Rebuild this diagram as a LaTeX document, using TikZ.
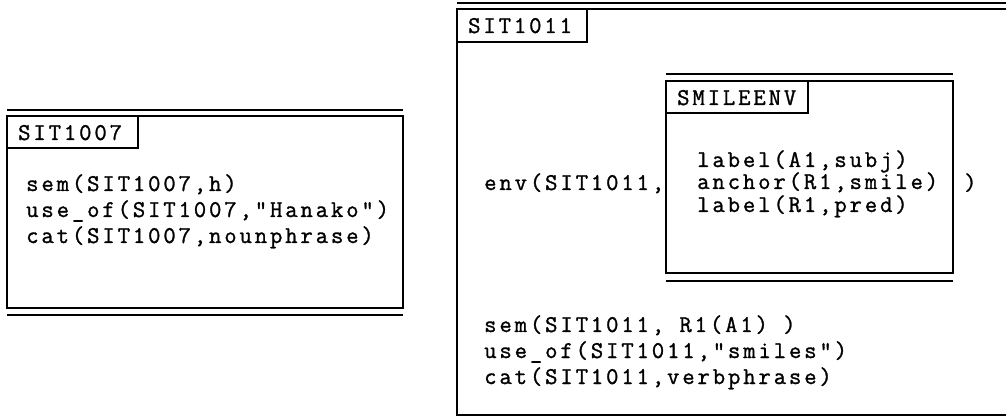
\documentclass[tikz,border=0pt]{standalone}
\usepackage{fontspec}
\newfontfamily\ttf{Latin Modern Mono}[LetterSpace=12,FakeBold=1.2]
\tikzset{
  frame/.style={line width=2.6pt},
  lab/.style={line width=2pt},
  rule/.style={line width=2.2pt},
  rulethick/.style={line width=2.8pt},
  txt/.style={anchor=base west, inner sep=0pt, font=\ttf\fontsize{24}{26}\selectfont},
}
\begin{document}
\begin{tikzpicture}[x=1pt,y=-1pt]
\useasboundingbox (0,0) rectangle (1006,419);
% left box
\draw[rule] (7,110) -- (403,110);
\draw[frame] (7,116) rectangle (403,308);
\draw[lab] (7,116) rectangle (138,148);
\draw[rulethick] (7,315) -- (403,315);
\node[txt] (lt) at (18,140) {SIT1007};
\node[txt] (l1) at (26,191) {sem(SIT1007,h)};
\node[txt] (l2) at (26,217) {use\_of(SIT1007,"Hanako")};
\node[txt] (l3) at (26,243) {cat(SIT1007,nounphrase)};
% right box
\draw[rule] (457,3) -- (1006,3);
\draw[frame] (1008,9) -- (457,9) -- (457,415) -- (1008,415);
\draw[lab] (457,9) rectangle (587,42);
\node[txt] (rt) at (468,33) {SIT1011};
% inner box
\draw[rule] (666,74) -- (953,74);
\draw[frame] (666,81) rectangle (953,273);
\draw[lab] (666,81) rectangle (808,113);
\draw[rulethick] (666,281) -- (953,281);
\node[txt] (it) at (677,105) {SMILEENV};
\node[txt] (i1) at (697,167) {label(A1,subj)};
\node[txt] (i2) at (697,189) {anchor(R1,smile)};
\node[txt] (i3) at (697,212) {label(R1,pred)};
\node[txt] (env) at (484,190) {env(SIT1011,};
\node[txt] (cl) at (964,190) {)};
\node[txt] (r1) at (484,332) {sem(SIT1011, R1(A1) )};
\node[txt] (r2) at (484,358) {use\_of(SIT1011,"smiles")};
\node[txt] (r3) at (484,384) {cat(SIT1011,verbphrase)};
\end{tikzpicture}
\end{document}
